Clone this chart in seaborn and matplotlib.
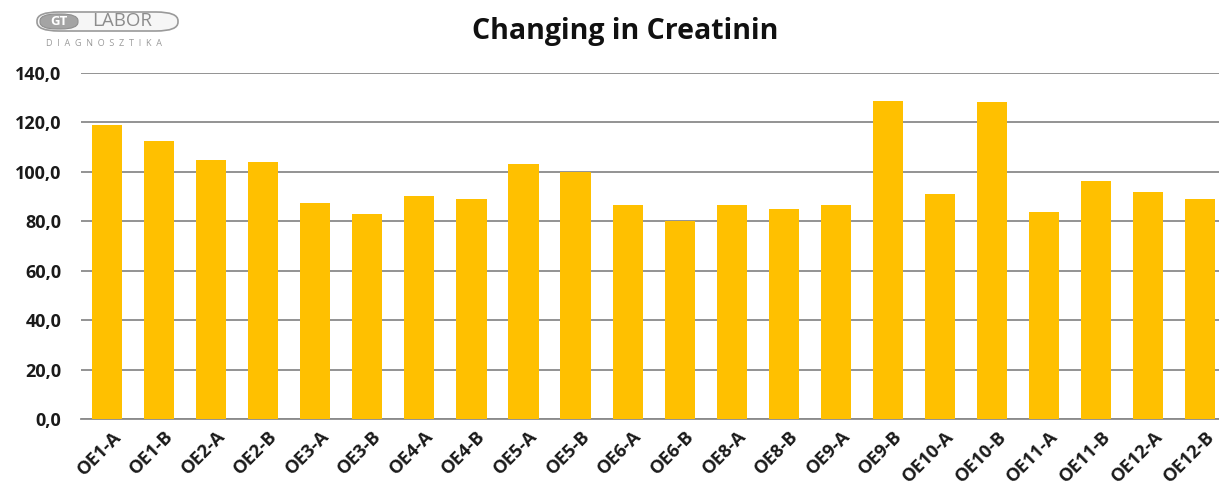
import matplotlib
matplotlib.use("Agg")
import matplotlib.pyplot as plt
from matplotlib.patches import FancyBboxPatch
from matplotlib.transforms import ScaledTranslation
import seaborn as sns
import pandas as pd

# Sample labels and creatinine values
samples = ["OE1-A", "OE1-B", "OE2-A", "OE2-B", "OE3-A", "OE3-B", "OE4-A", "OE4-B",
           "OE5-A", "OE5-B", "OE6-A", "OE6-B", "OE8-A", "OE8-B", "OE9-A", "OE9-B",
           "OE10-A", "OE10-B", "OE11-A", "OE11-B", "OE12-A", "OE12-B"]
creatinin = [119.0, 112.5, 104.8, 104.0, 87.4, 83.0, 90.2, 89.0,
             103.2, 100.0, 86.6, 80.1, 86.6, 85.0, 86.6, 128.7,
             91.0, 128.3, 83.8, 96.3, 91.9, 89.0]
y_ticks = [0, 20, 40, 60, 80, 100, 120, 140]

df = pd.DataFrame({"sample": samples, "value": creatinin})

sns.set_theme(style="white")
plt.rcParams["font.family"] = ["Open Sans", "DejaVu Sans"]

fig = plt.figure(figsize=(12.19, 4.88), dpi=100)
ax = fig.add_axes([81 / 1219, 1 - 419 / 488, 1 - 81 / 1219, (419 - 73) / 488])

sns.barplot(data=df, x="sample", y="value", color="#FFC000", saturation=1,
            width=0.58, linewidth=0, ax=ax, zorder=3)

ax.set_ylim(0, 140)
ax.set_xlim(-0.5, 21.36)
ax.set_yticks(y_ticks)
ax.set_yticklabels([f"{v:.1f}".replace(".", ",") for v in y_ticks],
                   fontsize=13, fontweight="bold", color="#1a1a1a")
ax.set_xticks(range(len(samples)))
ax.set_xticklabels(samples, rotation=45, ha="right", va="top",
                   rotation_mode="anchor",
                   fontsize=13.2, fontweight="bold", color="#1a1a1a")
ax.tick_params(axis="y", length=0, pad=14)
ax.tick_params(axis="x", length=0, pad=6)
shift = ScaledTranslation(5 / 100, 0, fig.dpi_scale_trans)
for lbl in ax.get_xticklabels():
    lbl.set_transform(lbl.get_transform() + shift)
ax.set_xlabel("")
ax.set_ylabel("")
ax.yaxis.grid(True, color="#8a8a8a", linewidth=1.3, zorder=0)
ax.set_axisbelow(True)
for side in ["top", "right", "left"]:
    ax.spines[side].set_visible(False)
ax.spines["bottom"].set_color("#8a8a8a")
ax.spines["bottom"].set_linewidth(1.3)

fig.text(625 / 1219, 1 - 32 / 488, "Changing in Creatinin", ha="center",
         va="center", fontsize=20.5, fontweight="bold", color="#111111")

# Company logo in the top-left corner
logo = FancyBboxPatch((37 / 1219, 1 - 31 / 488), 141 / 1219, 19 / 488,
                      boxstyle="round,pad=0,rounding_size=0.018",
                      transform=fig.transFigure, facecolor="#f6f6f6",
                      edgecolor="#9a9a9a", linewidth=1.2)
fig.patches.append(logo)
badge = FancyBboxPatch((40 / 1219, 1 - 29 / 488), 38 / 1219, 15 / 488,
                       boxstyle="round,pad=0,rounding_size=0.014",
                       transform=fig.transFigure, facecolor="#a4a4a4",
                       edgecolor="#8f8f8f", linewidth=0.8)
fig.patches.append(badge)
fig.text(59 / 1219, 1 - 21.5 / 488, "GT", ha="center", va="center",
         fontsize=9.5, fontweight="bold", color="white")
fig.text(122 / 1219, 1 - 21.5 / 488, "LABOR", ha="center", va="center",
         fontsize=13.5, color="#8c8c8c")
fig.text(104 / 1219, 1 - 43 / 488, "D  I  A  G  N  O  S  Z  T  I  K  A",
         ha="center", va="center", fontsize=6.5, color="#9a9a9a")

fig.savefig("out.png", dpi=100)
